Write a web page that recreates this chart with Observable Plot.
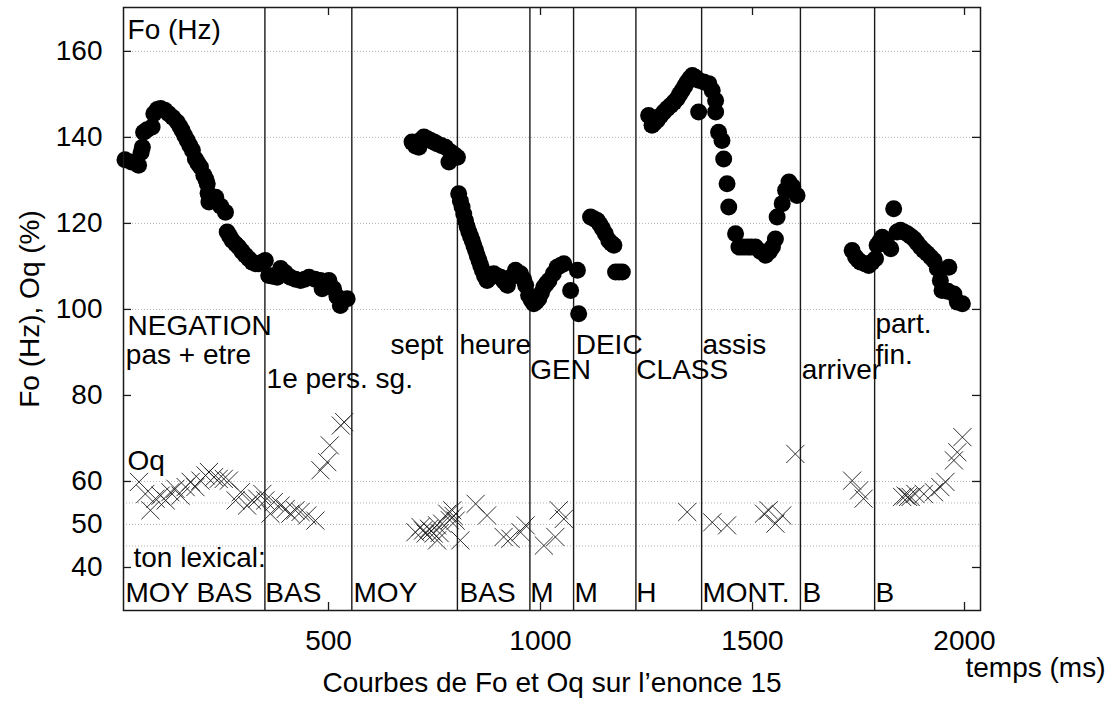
<!DOCTYPE html>
<html><head><meta charset="utf-8">
<script src="https://cdn.jsdelivr.net/npm/d3@7"></script>
<script src="https://cdn.jsdelivr.net/npm/@observablehq/plot@0.6"></script>
<style>html,body{margin:0;padding:0;background:#fff;}</style>
</head><body><div id="chart"></div>
<script>
// Fo (Hz) contour: time (ms) and value
const foTime = [20,35,52,58,61,64,72,84,88,96,104,114,123,133,143,150,155,161,167,173,179,186,192,198,206,211,214,216,218,226,234,246,257,261,267,273,281,288,296,304,312,320,328,336,344,351,359,368,379,387,398,410,422,434,444,454,468,481,485,492,501,512,520,528,544,
  697,705,713,719,725,733,741,749,756,766,776,784,788,796,804,807,811,815,819,823,827,831,835,839,843,847,851,855,859,863,868,874,882,890,898,906,914,922,930,941,953,960,965,972,978,984,990,996,1002,1008,1014,1020,1030,1039,1047,1055,1071,1087,1090,
  1118,1126,1134,1140,1146,1153,1161,1167,1173,1177,1185,1193,
  1255,1263,1269,1275,1283,1291,1299,1307,1315,1322,1328,1334,1340,1346,1352,1358,1365,1373,1373,1385,1397,1405,1413,1413,1420,1428,1432,1440,1444,1460,1468,1478,1488,1497,1507,1519,1531,1540,1547,1554,1558,1570,1578,1586,1595,1605,
  1735,1743,1749,1755,1765,1774,1782,1790,1794,1800,1806,1816,1826,1833,1841,1849,1857,1865,1873,1881,1888,1896,1904,1912,1920,1928,1936,1943,1947,1961,1963,1975,1983,1995];
const foHz = [134.8,134.3,133.5,136.5,137.7,141.2,141.8,142.4,145.5,146.5,146.7,146.3,145.5,144.6,143.6,142.5,141.6,140.4,139.3,138.1,137.0,135.0,134.0,133.1,131.2,130.2,129.2,127.0,125.0,125.8,126.1,124.0,122.6,118.0,117.0,116.0,115.2,114.5,113.5,112.6,111.8,111.0,110.6,110.6,111.0,111.4,107.9,107.7,107.5,109.5,108.5,107.5,107.0,106.7,107.0,107.5,107.0,106.7,104.8,106.0,106.7,104.8,103.0,100.9,102.5,
  138.9,138.0,137.7,139.5,140.1,139.7,139.3,138.9,138.5,138.1,137.7,134.3,136.6,136.0,135.4,126.9,125.2,123.8,122.2,120.7,119.3,118.0,117.0,116.0,114.8,113.7,112.5,111.4,110.2,109.1,107.8,106.7,107.5,108.3,107.8,107.5,106.5,105.6,107.5,109.1,108.3,107.0,105.6,103.3,102.2,101.3,101.8,102.5,103.8,105.2,106.0,106.7,108.3,109.8,110.2,110.6,104.4,109.1,99.0,
  121.5,121.1,120.7,119.8,118.8,117.6,116.0,115.4,114.9,108.7,108.7,108.7,
  145.1,142.8,143.4,144.0,145.0,145.9,146.7,147.4,148.2,149.0,150.0,150.9,151.9,152.9,153.7,154.4,154.0,153.3,145.9,152.9,152.5,150.9,148.6,145.9,141.2,139.3,135.0,129.2,123.8,117.6,114.5,114.5,114.5,114.5,114.5,113.5,112.6,113.5,114.5,116.4,121.5,124.6,127.7,129.6,128.5,126.5,
  113.7,112.2,111.5,111.0,110.6,110.2,111.0,111.8,114.9,115.8,116.8,115.5,114.1,123.4,118.0,118.4,118.0,117.6,117.0,116.4,115.5,114.5,113.7,113.0,112.2,111.4,109.5,106.7,104.4,104.2,109.8,103.6,101.7,101.3];

// Oq (%) values
const oqTime = [53,68,80,92,104,116,127,139,151,163,175,186,198,210,218,230,241,253,265,281,293,308,320,332,344,351,363,371,387,399,410,422,434,450,469,481,497,503,529,537,
  705,717,723,729,737,742,748,756,756,762,768,780,786,792,795,800,811,847,874,913,929,953,965,1008,1035,1043,1055,
  1346,1405,1440,1527,1538,1554,1570,1601,
  1735,1751,1762,1853,1861,1867,1873,1884,1904,1928,1943,1955,1975,1983,1995];
const oqPct = [59.9,57.1,53.3,56.0,56.7,55.6,57.5,58.3,56.7,58.7,59.9,58.7,60.2,61.4,62.2,61.0,60.6,60.6,60.2,55.6,57.5,54.4,55.6,56.0,57.1,55.6,52.5,55.2,54.4,53.6,52.5,53.3,52.9,52.1,50.9,62.6,64.5,68.4,73.0,73.8,
  48.2,49.4,48.6,47.9,49.0,48.5,47.9,49.8,46.3,48.0,50.2,52.5,51.0,53.3,52.0,50.9,46.3,54.8,52.1,47.1,46.7,48.2,49.8,45.1,47.1,53.3,51.3,
  52.9,50.5,49.8,52.5,53.3,50.2,52.1,66.4,
  60.2,57.9,56.0,56.4,56.7,56.4,56.4,57.1,57.1,57.5,58.7,59.9,64.9,66.8,70.3];

// word boundaries (ms)
const boundaries = [350,555,804,975,1078,1225,1380,1613,1788];

// annotation texts
const wordText  = ["Fo (Hz)","NEGATION","pas + etre","1e pers. sg.","sept","heure","GEN","DEIC","CLASS","assis","arriver","part.","fin.","Oq","ton lexical:"];
const wordTime  = [26,26,22,354,646,809,976,1083,1226,1382,1616,1790,1790,26,40];
const wordValue = [164.9,96.1,89.3,83.9,91.8,91.8,86.0,91.8,86.0,91.8,86.0,96.5,89.5,64.7,42.2];

const toneText = ["MOY BAS","BAS","MOY","BAS","M","M","H","MONT.","B","B"];
const toneTime = [21,351,559,809,976,1080,1226,1382,1618,1790];
const toneValue = 34.0;

const xTicks = [500,1000,1500,2000];
const yTickLabels = [40,50,60,80,100,120,140,160];
const yMajorTicks = [40,60,80,100,120,140,160];
const gridValues = [45,50,55,60,100,120,140,160];

const fo = foTime.map((t,i)=>({t, v: foHz[i]}));
const oq = oqTime.map((t,i)=>({t, v: oqPct[i]}));
const words = wordText.map((s,i)=>({s, t: wordTime[i], v: wordValue[i]}));
const tones = toneText.map((s,i)=>({s, t: toneTime[i], v: toneValue}));

const FONT = "'Liberation Sans', Arial, Helvetica, sans-serif";
const FS = 28;
const ink = "#1a1a1a";

const chart = Plot.plot({
  width: 1120, height: 704,
  marginLeft: 123, marginRight: 140, marginTop: 7, marginBottom: 94,
  style: {fontFamily: FONT, fontSize: FS + "px", background: "#fff", color: "#000"},
  x: {domain: [16.5, 2037.7]},
  y: {domain: [30, 170.2]},
  marks: [
    Plot.ruleY(gridValues, {y: d=>d, stroke: "#b4b4b4", strokeWidth: 1, strokeDasharray: "1,2"}),
    Plot.ruleX(boundaries, {x: d=>d, stroke: ink, strokeWidth: 1.4}),
    Plot.dot(oq, {x: "t", y: "v", symbol: "times", r: 8.3, stroke: ink, strokeWidth: 0.9}),
    Plot.dot(fo, {x: "t", y: "v", r: 8.5, fill: "#000", stroke: "none"}),
    Plot.text(words, {x: "t", y: "v", text: "s", textAnchor: "start", lineAnchor: "middle", fontSize: FS, fill: "#000"}),
    Plot.text(tones, {x: "t", y: "v", text: "s", textAnchor: "start", lineAnchor: "middle", fontSize: FS, fill: "#000"}),
    Plot.frame({stroke: ink, strokeWidth: 1.5}),
    Plot.tickX(xTicks, {x: d=>d, insetTop: 595, stroke: ink, strokeWidth: 1.3}),
    Plot.tickX(xTicks, {x: d=>d, insetBottom: 595, stroke: ink, strokeWidth: 1.3}),
    Plot.tickY(yMajorTicks, {y: d=>d, insetRight: 849, stroke: ink, strokeWidth: 1.3}),
    Plot.tickY(yMajorTicks, {y: d=>d, insetLeft: 849, stroke: ink, strokeWidth: 1.3}),
    Plot.axisX({ticks: xTicks, tickSize: 0, tickPadding: 20, fontSize: FS, tickFormat: d=>String(d), label: null}),
    Plot.axisY({ticks: yTickLabels, tickSize: 0, tickPadding: 21, fontSize: FS, tickFormat: d=>String(d), label: null}),
    Plot.text(["Fo (Hz), Oq (%)"], {frameAnchor: "left", rotate: -90, dx: -93, textAnchor: "middle", lineAnchor: "middle", fontSize: FS, fill: "#000"}),
    Plot.text(["temps (ms)"], {frameAnchor: "bottom-right", dx: 125, dy: 58, textAnchor: "end", lineAnchor: "middle", fontSize: FS, fill: "#000"}),
    Plot.text(["Courbes de Fo et Oq sur l’enonce 15"], {frameAnchor: "bottom", dy: 73, textAnchor: "middle", lineAnchor: "middle", fontSize: FS, fill: "#000"})
  ]
});
document.getElementById("chart").appendChild(chart);
</script>
</body></html>
